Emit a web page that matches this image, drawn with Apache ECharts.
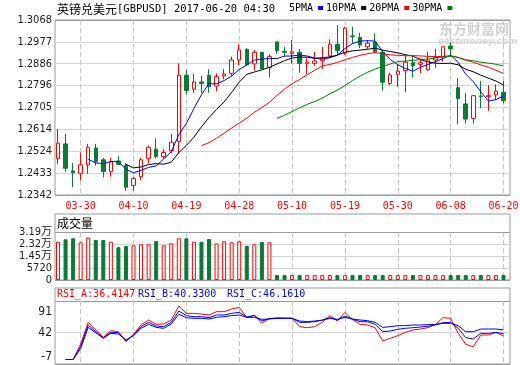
<!DOCTYPE html>
<html>
<head>
<meta charset="utf-8">
<title>GBPUSD</title>
<script src="https://cdn.jsdelivr.net/npm/echarts@6.0.0/dist/echarts.min.js"></script>
<style>
html,body{margin:0;padding:0;background:#ffffff;}
#chart{width:520px;height:365px;}
</style>
</head>
<body>
<div id="chart"></div>
<script>
// ---------------- data ----------------
const titleName = '英镑兑美元';
const titleCode = '[GBPUSD]';
const titleTime = '2017-06-20 04:30';

const dates = ['03-27','03-28','03-29','03-30','03-31','04-03','04-04','04-05','04-06','04-07',
  '04-10','04-11','04-12','04-13','04-14','04-17','04-18','04-19','04-20','04-21',
  '04-24','04-25','04-26','04-27','04-28','05-02','05-03','05-04','05-05','05-08',
  '05-09','05-10','05-11','05-12','05-15','05-16','05-17','05-18','05-19','05-22',
  '05-23','05-24','05-25','05-26','05-29','05-30','05-31','06-01','06-02','06-05',
  '06-06','06-07','06-08','06-09','06-12','06-13','06-14','06-15','06-16','06-20'];

const opens = [1.2494,1.2554,1.2442,1.2432,1.2467,1.2537,1.2488,1.2439,1.2483,1.2464,
  1.2382,1.2418,1.2494,1.2532,1.2501,1.2526,1.2563,1.2839,1.2781,1.2811,
  1.2839,1.2794,1.2836,1.2847,1.2902,1.2946,1.2886,1.2934,1.2870,1.2977,
  1.2938,1.2930,1.2934,1.2888,1.2888,1.2899,1.2919,1.2967,1.2930,1.3002,
  1.2996,1.2957,1.2976,1.2934,1.2805,1.2843,1.2858,1.2891,1.2884,1.2861,
  1.2902,1.2916,1.2960,1.2787,1.2720,1.2660,1.2753,1.2751,1.2757,1.2768];
const closes = [1.2557,1.2453,1.2435,1.2467,1.2540,1.2480,1.2439,1.2479,1.2469,1.2374,
  1.2411,1.2488,1.2540,1.2501,1.2518,1.2561,1.2839,1.2775,1.2811,1.2805,
  1.2791,1.2833,1.2844,1.2902,1.2944,1.2883,1.2934,1.2866,1.2916,1.2941,
  1.2934,1.2936,1.2888,1.2894,1.2898,1.2909,1.2967,1.2941,1.3034,1.2999,
  1.2964,1.2971,1.2936,1.2810,1.2840,1.2856,1.2893,1.2878,1.2891,1.2902,
  1.2912,1.2957,1.2948,1.2742,1.2657,1.2754,1.2750,1.2754,1.2773,1.2733];
const lows = [1.2471,1.2439,1.2374,1.2403,1.2430,1.2464,1.2414,1.2418,1.2467,1.2360,
  1.2360,1.2403,1.2474,1.2493,1.2493,1.2515,1.2515,1.2760,1.2766,1.2765,
  1.2766,1.2772,1.2822,1.2836,1.2881,1.2877,1.2858,1.2864,1.2829,1.2927,
  1.2916,1.2888,1.2849,1.2844,1.2878,1.2865,1.2912,1.2923,1.2923,1.2971,
  1.2951,1.2948,1.2930,1.2775,1.2798,1.2791,1.2768,1.2829,1.2847,1.2856,
  1.2870,1.2895,1.2916,1.2635,1.2639,1.2639,1.2702,1.2691,1.2736,1.2722];
const highs = [1.2616,1.2595,1.2475,1.2518,1.2554,1.2554,1.2496,1.2496,1.2504,1.2475,
  1.2417,1.2496,1.2547,1.2576,1.2533,1.2595,1.2888,1.2861,1.2844,1.2836,
  1.2864,1.2847,1.2864,1.2916,1.2967,1.2952,1.2944,1.2936,1.2926,1.2979,
  1.2957,1.2985,1.2948,1.2909,1.2936,1.2957,1.2988,1.3047,1.3040,1.3040,
  1.3015,1.2985,1.3013,1.2941,1.2849,1.2881,1.2923,1.2916,1.2909,1.2936,
  1.2948,1.2958,1.2976,1.2826,1.2764,1.2757,1.2815,1.2798,1.2801,1.2815];

const volumes = [25600,27200,27900,25200,28300,26750,26750,25600,21900,22700,
  23200,23900,23900,26100,23200,24500,27900,27900,25600,25600,
  27400,24500,25900,25200,25900,22900,23900,25400,25200,3300,
  3300,3300,3300,3300,3300,3300,3300,3300,3300,3300,
  3300,3300,3300,3300,3300,3300,3300,3300,3300,3300,
  3300,3300,3300,3300,3300,3300,3300,3300,3300,3300];

const rsiA = ['-',0,0,24,57.8,45.9,34.5,44.8,43.3,27.7,
  39.1,53.7,61.4,54.7,55.2,61.4,83.2,71.8,71.8,70.8,
  69.2,74.4,74.4,78.5,81.1,65,69.2,56.3,64,64.5,
  64.5,64,51.1,49.5,51.1,57.8,68.2,59.9,73.3,62,
  54.7,53.7,49.5,28.8,32.9,37.1,42.2,45.9,47.4,49.5,
  54.7,65.1,64,40.7,23.6,19.9,38.1,38.1,42.2,36.4147];
const rsiB = ['-',0,0,20,53.7,43.3,33.5,42.2,41.7,29.3,
  38.1,51.1,57.8,52.1,51.1,57.8,75.4,68.2,66.6,66.6,
  65.1,69.2,69.2,71.8,73.3,66,68.2,60,63.5,64.2,
  64.2,64,57.8,57.8,58.8,61.4,65.1,61.4,67.6,62.8,
  58.8,58.8,54.7,43.3,44.3,46.9,48.5,49.5,50.5,51.6,
  54,57.3,57.8,48.5,34,31.9,40.7,40.7,42.2,40.33];
const rsiC = ['-',0,0,17,50,41.7,33,40.7,39.6,30.3,
  37.1,48.5,54.7,50,48.5,55.2,70.2,65.1,64,64,
  63,65.6,66.6,68.2,69.2,65.6,65.6,62.5,63,64,
  64,64,59.9,58.8,59.9,61,64,62.5,65.6,63,
  61.4,60.4,57.8,50,51.1,52.6,52.6,53.7,53.7,54.2,
  54.5,56.3,56.3,52.6,43.3,43.3,47.4,47.4,47.4,46.161];

const priceMin = 1.2342, priceMax = 1.3068, priceStep = 0.009075;
const priceTickLabels = ['1.2342','1.2433','1.2524','1.2614','1.2705','1.2796','1.2886','1.2977','1.3068'];
const volMax = 31900, volStep = 7975;
const volTickLabels = ['0','5720','1.45万','2.32万','3.19万'];
const rsiMin = -7, rsiMax = 91, rsiStep = 49;
const rsiTickLabels = ['-7','42','91'];

const maPeriods = [5, 10, 20, 30];
const maNames = ['5PMA', '10PMA', '20PMA', '30PMA'];
const maColors = ['#0000ff', '#000000', '#ff0000', '#008000'];

// ---------------- styling ----------------
const upColor = '#ff0000';
const downColor = '#0a7a36';
const frameColor = '#9a9a9a';
const gridColor = '#d4d4d4';
const dashColor = '#c4c4c4';
const monoFont = '"DejaVu Sans Mono","Liberation Mono",monospace';
const numFont = '"Liberation Sans Narrow","DejaVu Sans Condensed","Liberation Sans","Noto Sans CJK SC",sans-serif';
const cjkFont = '"Noto Sans CJK SC","Noto Sans",sans-serif';

function movingAverage(period) {
  return closes.map((c, i) => {
    if (i < period - 1) return '-';
    let s = 0;
    for (let k = i - period + 1; k <= i; k++) s += closes[k];
    return +(s / period).toFixed(5);
  });
}

const candleData = dates.map((d, i) => [opens[i], closes[i], lows[i], highs[i]]);
const volumeData = volumes.map((v, i) => ({
  value: v,
  itemStyle: closes[i] >= opens[i]
    ? { color: '#ffffff', borderColor: upColor, borderWidth: 1 }
    : { color: downColor, borderColor: downColor, borderWidth: 1 }
}));

const tickEvery = (idx) => idx % 7 === 3;

function frameX(gi) { return { type: 'value', gridIndex: gi, show: false, min: 0, max: 1 }; }
function hiddenY(gi, min, max) { return { type: 'value', gridIndex: gi, show: false, min: min, max: max }; }
function catX(gi, withLabels) {
  return {
    type: 'category', gridIndex: gi, data: dates, boundaryGap: false,
    axisLine: { show: false }, axisTick: { show: false },
    axisLabel: withLabels ? {
      show: true, interval: tickEvery, color: '#ff0000', fontFamily: monoFont, fontSize: 10, margin: 6
    } : { show: false },
    splitLine: { show: true, interval: tickEvery, lineStyle: { color: dashColor, width: 1, type: [5, 3] } }
  };
}
function splitColors(n) {
  const arr = [];
  for (let k = 0; k < n; k++) arr.push(k === 0 || k === n - 1 ? frameColor : gridColor);
  return arr;
}

const G = (left, top, width, height, show) => ({
  left, top, width, height, show: !!show, borderColor: frameColor, borderWidth: 1,
  backgroundColor: 'transparent', containLabel: false, outerBoundsMode: 'none'
});

const option = {
  animation: false,
  backgroundColor: '#ffffff',
  textStyle: { fontFamily: numFont },
  title: [
    { left: 57, top: 3, padding: 0,
      text: '{cn|' + titleName + '}{en|' + titleCode + ' ' + titleTime + '}',
      textStyle: { fontWeight: 'normal', rich: {
        cn: { fontFamily: cjkFont, fontSize: 12, color: '#000000', lineHeight: 13 },
        en: { fontFamily: monoFont, fontSize: 10.5, color: '#000000', lineHeight: 13 }
      } } },
    { left: 57, top: 216, padding: 0, text: '成交量',
      textStyle: { fontFamily: cjkFont, fontSize: 12, fontWeight: 'normal', color: '#000000', lineHeight: 14 } },
    { left: 57, top: 288, padding: 0, text: 'RSI_A:' + rsiA[rsiA.length - 1].toFixed(4),
      textStyle: { fontFamily: monoFont, fontSize: 10, fontWeight: 'normal', color: '#ff0000', lineHeight: 12 } },
    { left: 138, top: 288, padding: 0, text: 'RSI_B:' + rsiB[rsiB.length - 1].toFixed(4),
      textStyle: { fontFamily: monoFont, fontSize: 10, fontWeight: 'normal', color: '#0000ff', lineHeight: 12 } },
    { left: 227, top: 288, padding: 0, text: 'RSI_C:' + rsiC[rsiC.length - 1].toFixed(4),
      textStyle: { fontFamily: monoFont, fontSize: 10, fontWeight: 'normal', color: '#0000ff', lineHeight: 12 } }
  ],
  legend: {
    data: maNames, left: 289, top: 3, padding: 0, align: 'right', icon: 'rect',
    itemWidth: 5, itemHeight: 4, itemGap: 3, selectedMode: false,
    textStyle: { fontFamily: monoFont, fontSize: 10, color: '#000000' }
  },
  graphic: [
    { type: 'text', left: 439, top: 22, z: 0, silent: true,
      style: { text: '东方财富网', font: 'bold 14px "Noto Sans CJK SC"', fill: '#d2d2d2' } },
    { type: 'text', left: 438, top: 37, z: 0, silent: true,
      style: { text: 'eastmoney.com', font: 'italic bold 9px "DejaVu Sans"', fill: '#d6d6d6' } }
  ],
  grid: [
    G(55, 20, 455, 175, true),        // 0 main frame
    G(58, 20, 445.5, 175, false),     // 1 main data
    G(55, 214, 455, 66, true),        // 2 volume box
    G(55, 232.3, 455, 47.7, false),   // 3 volume scale
    G(58, 232.3, 445.5, 47.7, false), // 4 volume data
    G(55, 288, 455, 76, true),        // 5 rsi box
    G(55, 301, 455, 63, false),       // 6 rsi scale
    G(58, 301, 445.5, 63, false)      // 7 rsi data
  ],
  xAxis: [frameX(0), catX(1, true), frameX(2), frameX(3), catX(4, false), frameX(5), frameX(6), catX(7, false)],
  yAxis: [
    { type: 'value', gridIndex: 0, min: priceMin, max: priceMax, interval: priceStep,
      axisLine: { show: false }, axisTick: { show: false },
      axisLabel: { showMinLabel: true, showMaxLabel: true, margin: 3, fontSize: 11, fontFamily: numFont, color: '#222222',
        formatter: v => priceTickLabels[Math.round((v - priceMin) / priceStep)] },
      splitLine: { show: true, lineStyle: { color: splitColors(priceTickLabels.length), width: 1 } } },
    hiddenY(1, priceMin, priceMax),
    hiddenY(2, 0, 1),
    { type: 'value', gridIndex: 3, min: 0, max: volMax, interval: volStep,
      axisLine: { show: false }, axisTick: { show: false },
      axisLabel: { showMinLabel: true, showMaxLabel: true, margin: 3, fontSize: 11, fontFamily: numFont, color: '#222222',
        formatter: v => volTickLabels[Math.round(v / volStep)] },
      splitLine: { show: true, lineStyle: { color: splitColors(volTickLabels.length), width: 1 } } },
    hiddenY(4, 0, volMax),
    hiddenY(5, 0, 1),
    { type: 'value', gridIndex: 6, min: rsiMin, max: rsiMax, interval: rsiStep,
      axisLine: { show: false }, axisTick: { show: false },
      axisLabel: { showMinLabel: true, showMaxLabel: true, margin: 3, fontSize: 12, fontFamily: numFont, color: '#222222',
        formatter: v => {
          const k = Math.round((v - rsiMin) / rsiStep);
          if (k === 0) return '{lo|' + rsiTickLabels[0] + '}';
          if (k === rsiTickLabels.length - 1) return '{hi|' + rsiTickLabels[k] + '}';
          return rsiTickLabels[k];
        },
        rich: {
          hi: { fontSize: 12, fontFamily: numFont, color: '#222222', padding: [21, 0, 0, 0] },
          lo: { fontSize: 12, fontFamily: numFont, color: '#222222', padding: [0, 0, 15, 0] }
        } },
      splitLine: { show: true, lineStyle: { color: splitColors(rsiTickLabels.length), width: 1 } } },
    hiddenY(7, rsiMin, rsiMax)
  ],
  series: [
    { type: 'candlestick', name: 'GBPUSD', xAxisIndex: 1, yAxisIndex: 1, data: candleData,
      barWidth: 4, clip: false, silent: true,
      itemStyle: { color: '#ffffff', color0: downColor, borderColor: upColor, borderColor0: downColor, borderWidth: 1 } }
  ].concat(maPeriods.map((p, k) => ({
    type: 'line', name: maNames[k], xAxisIndex: 1, yAxisIndex: 1, data: movingAverage(p),
    symbol: 'none', smooth: false, color: maColors[k], silent: true,
    lineStyle: { color: maColors[k], width: 1 }
  }))).concat([
    { type: 'bar', name: 'volume', xAxisIndex: 4, yAxisIndex: 4, data: volumeData,
      barWidth: 4, clip: false, silent: true },
    { type: 'line', name: 'RSI_A', xAxisIndex: 7, yAxisIndex: 7, data: rsiA, symbol: 'none',
      color: '#ff0000', lineStyle: { color: '#ff0000', width: 1 }, silent: true },
    { type: 'line', name: 'RSI_B', xAxisIndex: 7, yAxisIndex: 7, data: rsiB, symbol: 'none',
      color: '#0000ff', lineStyle: { color: '#0000ff', width: 1 }, silent: true },
    { type: 'line', name: 'RSI_C', xAxisIndex: 7, yAxisIndex: 7, data: rsiC, symbol: 'none',
      color: '#0000ff', lineStyle: { color: '#0000ff', width: 1 }, silent: true }
  ])
};

const chart = echarts.init(document.getElementById('chart'), null, { renderer: 'canvas' });
chart.setOption(option);
</script>
</body>
</html>
